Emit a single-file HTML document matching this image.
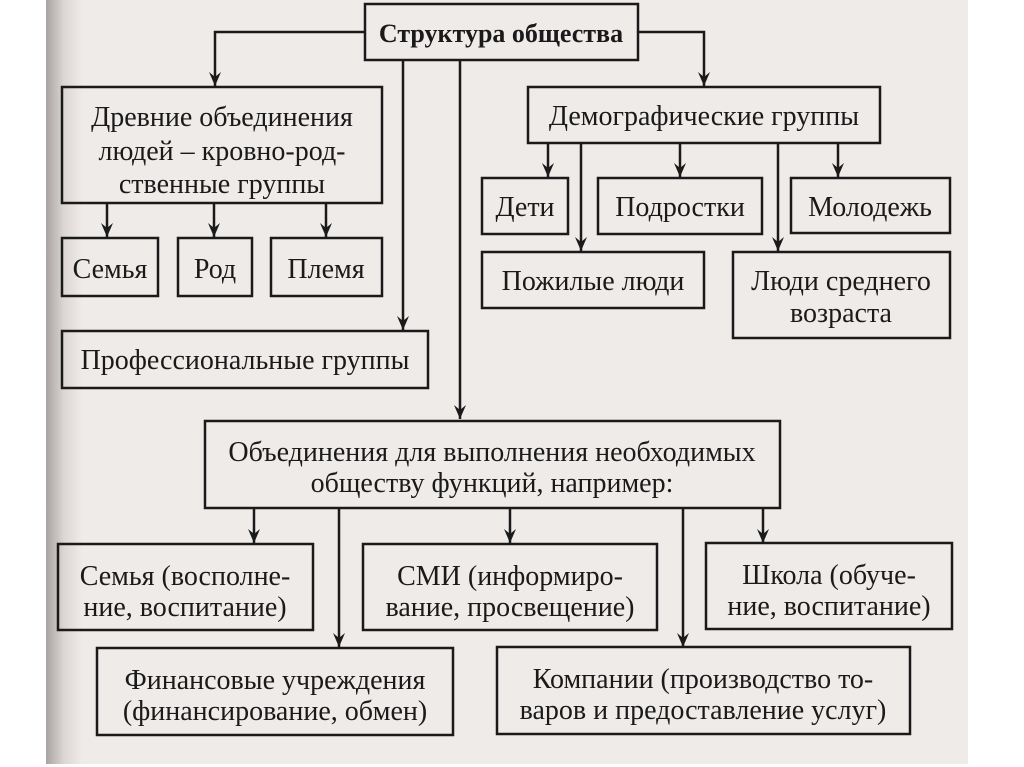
<!DOCTYPE html>
<html><head><meta charset="utf-8"><style>
html,body{margin:0;padding:0;background:#fff;}
svg{display:block;}
text{font-family:"Liberation Serif","DejaVu Serif",serif;font-size:28px;fill:#1a1a1a;text-anchor:middle;}
</style></head><body>
<svg width="1024" height="767" viewBox="0 0 1024 767" xmlns="http://www.w3.org/2000/svg">
<defs>
<linearGradient id="lg" x1="0" x2="1" y1="0" y2="0">
<stop offset="0" stop-color="#a8a2a2"/><stop offset="0.5" stop-color="#dcd6d4"/><stop offset="1" stop-color="#efebe9"/>
</linearGradient>
<marker id="a" markerWidth="14" markerHeight="12" refX="14" refY="6" orient="auto" markerUnits="userSpaceOnUse" viewBox="0 0 14 12">
<path d="M0,0 L5,6 L0,12 L14,6 Z" fill="#1a1a1a"/>
</marker>
</defs>
<rect x="46" y="0" width="922" height="764" fill="#efebe9"/>
<rect x="46" y="0" width="36" height="764" fill="url(#lg)"/>
<g stroke="#1a1a1a" stroke-width="2.5" fill="none">
<rect x="365" y="4" width="273" height="56"/>
<polyline points="365,32 215,32 215,86" marker-end="url(#a)"/>
<polyline points="638,32 704,32 704,86" marker-end="url(#a)"/>
<line x1="403" y1="60" x2="403" y2="330" marker-end="url(#a)"/>
<line x1="460" y1="60" x2="460" y2="419" marker-end="url(#a)"/>
<rect x="62" y="87" width="320" height="116"/>
<line x1="107" y1="203" x2="107" y2="237" marker-end="url(#a)"/>
<line x1="214" y1="203" x2="214" y2="237" marker-end="url(#a)"/>
<line x1="326" y1="203" x2="326" y2="237" marker-end="url(#a)"/>
<rect x="62" y="238" width="96" height="58"/>
<rect x="178" y="238" width="74" height="58"/>
<rect x="271" y="238" width="111" height="58"/>
<rect x="62" y="331" width="366" height="57"/>
<rect x="528" y="87" width="352" height="56"/>
<line x1="548" y1="143" x2="548" y2="177" marker-end="url(#a)"/>
<line x1="581" y1="143" x2="581" y2="251" marker-end="url(#a)"/>
<line x1="680" y1="143" x2="680" y2="177" marker-end="url(#a)"/>
<line x1="778" y1="143" x2="778" y2="251" marker-end="url(#a)"/>
<line x1="838" y1="143" x2="838" y2="177" marker-end="url(#a)"/>
<rect x="482" y="178" width="86" height="56"/>
<rect x="598" y="178" width="164" height="56"/>
<rect x="791" y="178" width="159" height="55"/>
<rect x="482" y="252" width="222" height="56"/>
<rect x="733" y="252" width="217" height="86"/>
<rect x="205" y="421" width="575" height="87"/>
<line x1="254" y1="508" x2="254" y2="543" marker-end="url(#a)"/>
<line x1="339" y1="508" x2="339" y2="647" marker-end="url(#a)"/>
<line x1="510" y1="508" x2="510" y2="543" marker-end="url(#a)"/>
<line x1="683" y1="508" x2="683" y2="647" marker-end="url(#a)"/>
<line x1="763" y1="508" x2="763" y2="543" marker-end="url(#a)"/>
<rect x="58" y="544" width="255" height="86"/>
<rect x="363" y="544" width="294" height="86"/>
<rect x="706" y="543" width="246" height="86"/>
<rect x="97" y="648" width="356" height="87"/>
<rect x="497" y="647" width="413" height="87"/>
</g>
<text x="501" y="42" style="font-weight:bold;font-size:26px">Структура общества</text>
<text x="222" y="126">Древние объединения</text>
<text x="222" y="160">людей – кровно-род-</text>
<text x="222" y="193">ственные группы</text>
<text x="110" y="278">Семья</text>
<text x="215" y="278">Род</text>
<text x="326" y="278">Племя</text>
<text x="245" y="369">Профессиональные группы</text>
<text x="704" y="125">Демографические группы</text>
<text x="525" y="216">Дети</text>
<text x="680" y="216">Подростки</text>
<text x="870" y="216">Молодежь</text>
<text x="593" y="290">Пожилые люди</text>
<text x="841" y="290">Люди среднего</text>
<text x="841" y="322">возраста</text>
<text x="492" y="461">Объединения для выполнения необходимых</text>
<text x="492" y="492">обществу функций, например:</text>
<text x="185" y="585">Семья (восполне-</text>
<text x="185" y="616">ние, воспитание)</text>
<text x="510" y="585">СМИ (информиро-</text>
<text x="510" y="616">вание, просвещение)</text>
<text x="829" y="584">Школа (обуче-</text>
<text x="829" y="615">ние, воспитание)</text>
<text x="275" y="689">Финансовые учреждения</text>
<text x="275" y="720">(финансирование, обмен)</text>
<text x="703" y="688">Компании (производство то-</text>
<text x="703" y="719">варов и предоставление услуг)</text>
</svg>
</body></html>
